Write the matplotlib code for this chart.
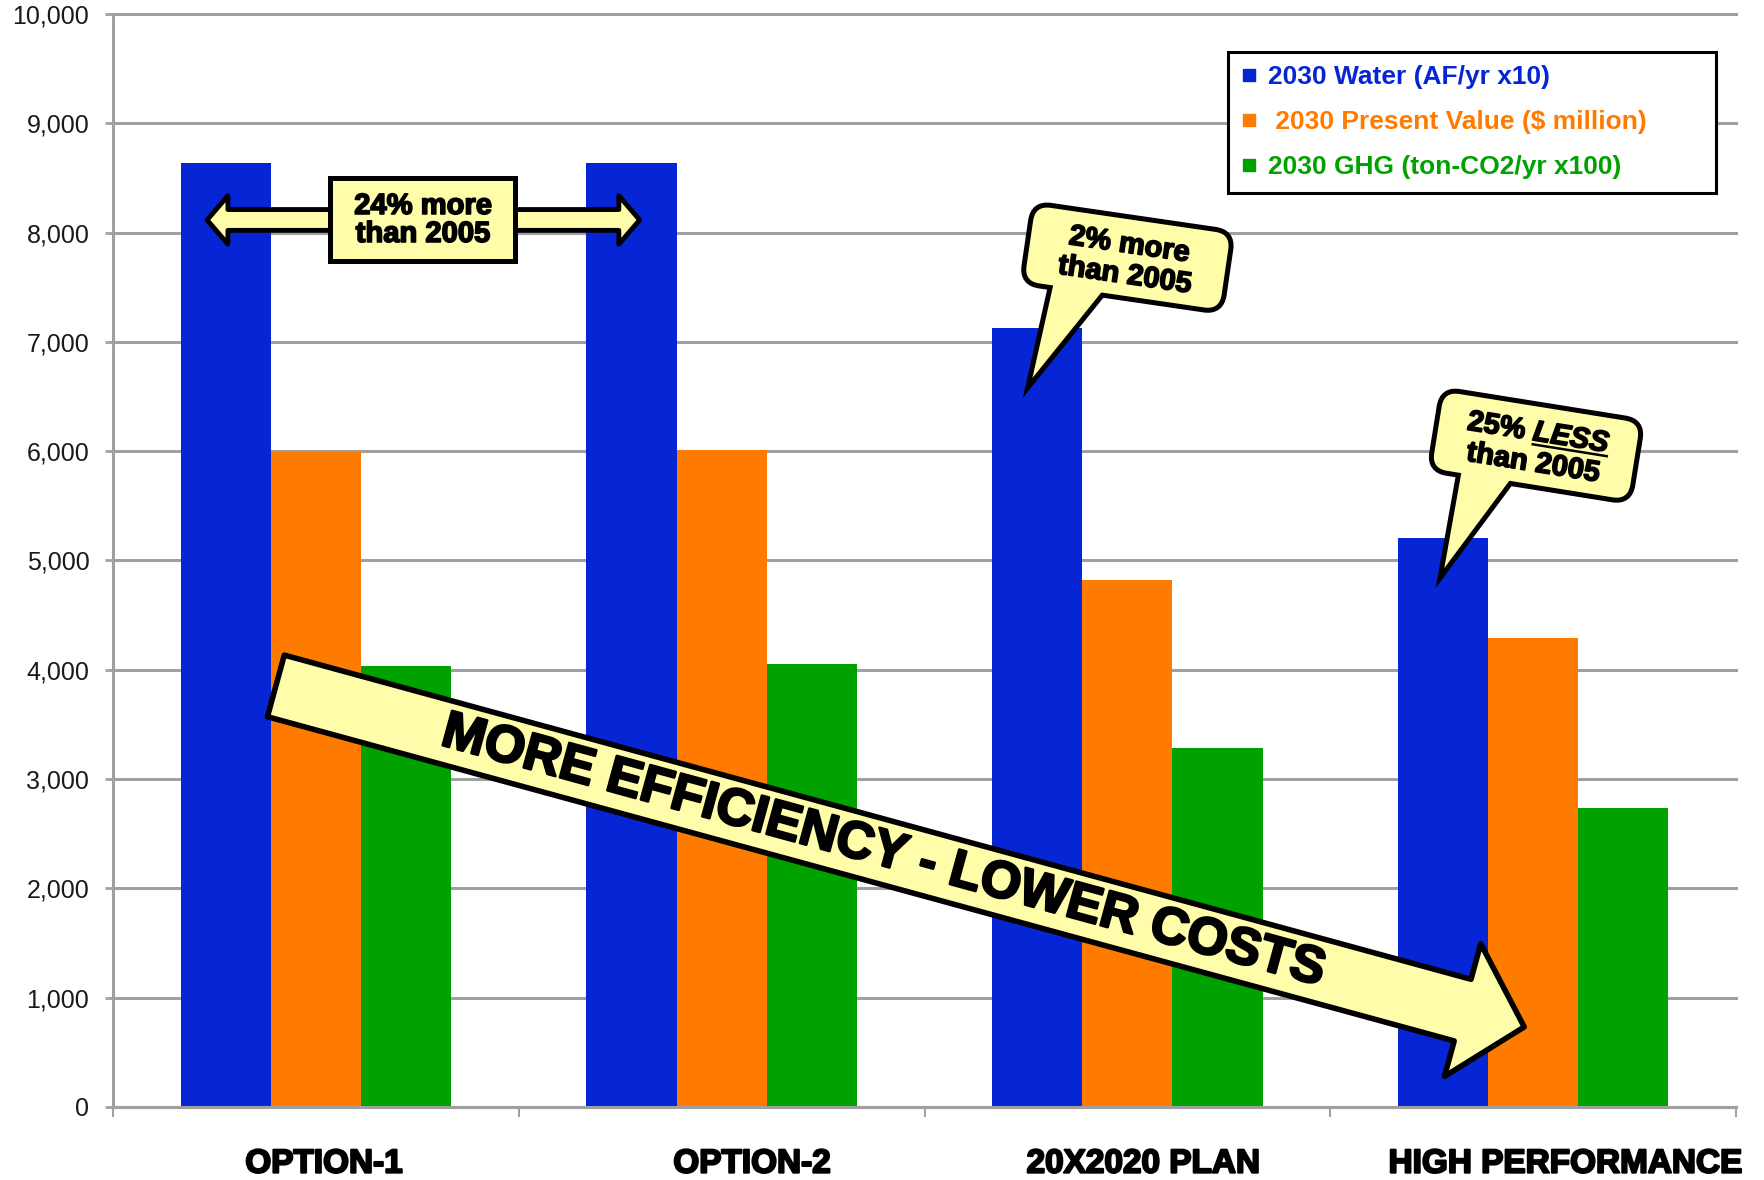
import numpy as np
import matplotlib.pyplot as plt
import matplotlib.patheffects as pe
import matplotlib.transforms as mtransforms
from matplotlib.lines import Line2D
from matplotlib.patches import ArrowStyle, FancyArrowPatch, FancyBboxPatch, Polygon, Rectangle

plt.rcParams['font.family'] = ['Liberation Sans', 'DejaVu Sans']

# --- data ---
categories = ["OPTION-1", "OPTION-2", "20X2020 PLAN", "HIGH PERFORMANCE"]
water_2030 = [8640, 8640, 7130, 5205]          # AF/yr x10
present_value_2030 = [5990, 6010, 4825, 4290]  # $ million
ghg_2030 = [4030, 4050, 3280, 2735]            # ton-CO2/yr x100
series_names = ["2030 Water (AF/yr x10)",
                " 2030 Present Value ($ million)",
                "2030 GHG (ton-CO2/yr x100)"]
y_ticks = [0, 1000, 2000, 3000, 4000, 5000, 6000, 7000, 8000, 9000, 10000]

colors = ['#0626d6', '#ff7b00', '#00a200']
yellow = '#fffcaa'
grey = '#a0a0a0'
heavy = [pe.withStroke(linewidth=1.2, foreground='black')]

fig = plt.figure(figsize=(17.65, 11.8), dpi=100)
ax = fig.add_axes([0.064, 0.0619, 0.9196, 0.9263])

# --- grouped bars ---
x = np.arange(len(categories))
w = 0.222
for i, (vals, c) in enumerate(zip([water_2030, present_value_2030, ghg_2030], colors)):
    ax.bar(x + (i - 1) * w, vals, w, color=c, linewidth=0, zorder=2)

ax.set_xlim(-0.5, 3.5)
ax.set_ylim(0, 10000)

# axes styling
ax.set_yticks(y_ticks, [f"{v:,}" for v in y_ticks])
ax.yaxis.grid(True, color=grey, lw=2.2)
ax.set_axisbelow(True)
for line in ax.get_ygridlines():
    line.set_clip_on(False)
for side in ('top', 'right'):
    ax.spines[side].set_visible(False)
for side in ('left', 'bottom'):
    ax.spines[side].set_color(grey)
    ax.spines[side].set_linewidth(2.2)
ax.tick_params(axis='y', length=6, width=2, color=grey, pad=11,
               labelsize=18, labelcolor='#1a1a1a')

ax.set_xticks(np.arange(-0.5, 4), labels=[])
ax.tick_params(axis='x', which='major', length=7, width=1.5, color=grey)
ax.set_xticks(x + np.array([0.02, 0.075, 0.04, 0.08]), categories, minor=True)
ax.tick_params(axis='x', which='minor', length=0, pad=30, labelsize=24)
for lab in ax.get_xticklabels(minor=True):
    lab.set_fontweight('bold')
    lab.set_path_effects([pe.withStroke(linewidth=1.5, foreground='black')])

# --- legend ---
handles = [Line2D([], [], ls='none', marker='s', markersize=8, color=c) for c in colors]
leg = ax.legend(handles, series_names, loc='upper left',
                bbox_to_anchor=(1228 / 1765, 1 - 187 / 1180, 488 / 1765, 135 / 1180),
                bbox_transform=fig.transFigure, mode='expand', borderaxespad=0,
                prop=dict(weight='bold', size=19), labelcolor=colors,
                fancybox=False, framealpha=1, edgecolor='black',
                handlelength=0.6, handletextpad=0.4, labelspacing=0.8, borderpad=0.5)
leg.get_frame().set_linewidth(2.2)
leg.set_zorder(12)

# --- double arrow between the two options ---
yc = 8115
double_style = ArrowStyle.Simple(head_length=15, head_width=35, tail_width=15)
for x_end in (-0.268, 0.798):
    ax.add_patch(FancyArrowPatch((0.264, yc), (x_end, yc), arrowstyle=double_style,
                                 mutation_scale=1, shrinkA=0, shrinkB=0,
                                 fc=yellow, ec='black', lw=3.5, zorder=4))
ax.add_patch(Rectangle((0.264 - 0.228, yc - 380), 0.456, 760,
                       fc=yellow, ec='black', lw=3.6, zorder=5))
ax.text(0.264, yc, "24% more\nthan 2005", ha='center', va='center',
        fontsize=21, weight='bold', linespacing=1.0, zorder=6, path_effects=heavy)

# --- big trend arrow ---
trend_style = ArrowStyle.Simple(head_length=46, head_width=99, tail_width=46)
ax.add_patch(FancyArrowPatch((-0.0985, 3852), (2.978, 732), arrowstyle=trend_style,
                             mutation_scale=1, shrinkA=0, shrinkB=0,
                             fc=yellow, ec='black', lw=4, zorder=7))
ax.text(1.399, 2333, "MORE EFFICIENCY - LOWER COSTS", rotation=-15.3,
        rotation_mode='anchor', ha='center', va='center', fontsize=37.5,
        weight='bold', zorder=8, path_effects=[pe.withStroke(linewidth=1.8, foreground='black')])

# --- speech bubbles ---
PT = fig.dpi / 72


def speech_bubble(center, tip, rot, size=(142, 55), base=(-50, -15), edge=3.6):
    """Rounded box centred on `center` (data), turned by `rot` degrees,
    with a tail ending on `tip` (data). Returns the box's local transform
    (units are points) so text can be placed inside it."""
    bw, bh = size
    trans = (mtransforms.Affine2D().rotate_deg(rot).scale(PT)
             + mtransforms.ScaledTranslation(center[0], center[1], ax.transData))
    d = (ax.transData.transform(tip) - ax.transData.transform(center)) / PT
    a = np.deg2rad(-rot)
    tip_local = np.array([d[0] * np.cos(a) - d[1] * np.sin(a),
                          d[0] * np.sin(a) + d[1] * np.cos(a)])
    corners = []
    for bx in base:
        p = np.array([bx, -bh / 2])
        v = p - tip_local
        corners.append(p + v / np.hypot(*v) * 10)
    tail = [corners[0], tip_local, corners[1]]
    # outline pass, then fill pass on top so only the outer contour shows
    for ec, lw, z in (('black', 2 * edge, 9), ('none', 0, 10)):
        ax.add_patch(FancyBboxPatch((-bw / 2, -bh / 2), bw, bh,
                                    boxstyle='round,pad=0,rounding_size=11',
                                    transform=trans, fc=yellow, ec=ec, lw=lw, zorder=z))
        ax.add_patch(Polygon(tail, closed=True, transform=trans, fc=yellow,
                             ec=ec, lw=lw, joinstyle='miter', zorder=z))
    return trans


rot1 = -8.3
t1 = speech_bubble((2.0, 7770), (2 - w - 0.012, water_2030[2] - 460), rot1)
for ty, s in ((3.6, "2% more"), (-18.5, "than 2005")):
    ax.text(0, ty, s, transform=t1, rotation=rot1, rotation_mode='anchor',
            ha='center', va='baseline', fontsize=21, weight='bold',
            zorder=11, path_effects=heavy)

rot2 = -9.1
t2 = speech_bubble((3.007, 6050), (3 - w + 0.003, water_2030[3] - 275), rot2, size=(143, 56))
split = -3.5
ax.text(split, 3.6, "25% ", transform=t2, rotation=rot2, rotation_mode='anchor',
        ha='right', va='baseline', fontsize=21, weight='bold', zorder=11, path_effects=heavy)
ax.text(split, 3.6, "LESS", transform=t2, rotation=rot2, rotation_mode='anchor',
        ha='left', va='baseline', fontsize=21, weight='bold', style='italic',
        zorder=11, path_effects=heavy)
ax.add_line(Line2D([split + 1, split + 55], [0.6, 0.6], transform=t2,
                   color='black', lw=1.8, zorder=11))
ax.text(0, -18.5, "than 2005", transform=t2, rotation=rot2, rotation_mode='anchor',
        ha='center', va='baseline', fontsize=21, weight='bold', zorder=11, path_effects=heavy)

fig.savefig('out.png', dpi=100)
